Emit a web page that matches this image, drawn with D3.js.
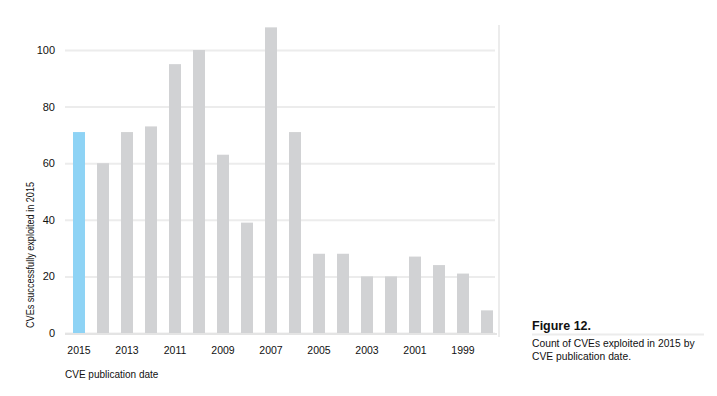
<!DOCTYPE html>
<html>
<head>
<meta charset="utf-8">
<script src="https://cdnjs.cloudflare.com/ajax/libs/d3/7.8.5/d3.min.js"></script>
<style>
  body { margin: 0; background: #fff; }
  svg { font-family: "Liberation Sans", Arial, sans-serif; }
</style>
</head>
<body>
<svg id="chart" width="717" height="396"></svg>
<script>
"use strict";

var years = ["2015", "2014", "2013", "2012", "2011", "2010", "2009", "2008", "2007",
             "2006", "2005", "2004", "2003", "2002", "2001", "2000", "1999", "1998"];
var counts = [71, 60, 71, 73, 95, 100, 63, 39, 108, 71, 28, 28, 20, 20, 27, 24, 21, 8];
var yTicks = [0, 20, 40, 60, 80, 100];
var xTickLabels = ["2015", "2013", "2011", "2009", "2007", "2005", "2003", "2001", "1999"];

var svg = d3.select("#chart");

var plotLeft = 67, plotRight = 499, plotBottom = 333;

var x = d3.scaleBand().domain(years).range([plotLeft, plotLeft + 24 * years.length]).paddingInner(0.5).paddingOuter(0.25);
var y = d3.scaleLinear().domain([0, 110.5]).range([plotBottom, plotBottom - 110.5 * 2.83]);

// gridlines
var yAxis = d3.axisLeft(y).tickValues(yTicks).tickSize(-(plotRight - 2 - plotLeft)).tickPadding(10);
var gY = svg.append("g")
    .attr("transform", "translate(" + plotLeft + ",0)")
    .call(yAxis);
gY.select(".domain").remove();
gY.selectAll(".tick line").attr("stroke", "#ececec").attr("stroke-width", 2).attr("transform", "translate(-2,0)");
gY.selectAll(".tick text").attr("font-size", 11).attr("fill", "#111").attr("x", -12);

// right border
svg.append("line")
    .attr("x1", plotRight).attr("x2", plotRight)
    .attr("y1", 25).attr("y2", 337)
    .attr("stroke", "#e6e6e6").attr("stroke-width", 1.5);

// bars
svg.append("g").selectAll("rect")
    .data(counts)
    .enter().append("rect")
    .attr("x", function (d, i) { return x(years[i]); })
    .attr("width", x.bandwidth())
    .attr("y", function (d) { return y(d); })
    .attr("height", function (d) { return y(0) - y(d); })
    .attr("fill", function (d, i) { return i === 0 ? "#8ed3f5" : "#d1d2d4"; });

// baseline
svg.append("line")
    .attr("x1", plotLeft - 2).attr("x2", plotRight - 2)
    .attr("y1", y(0) + 1).attr("y2", y(0) + 1)
    .attr("stroke", "#e4e4e4").attr("stroke-width", 2);

// x axis labels
var xAxis = d3.axisBottom(x).tickValues(xTickLabels).tickSize(0).tickPadding(14);
var gX = svg.append("g")
    .attr("transform", "translate(0," + plotBottom + ")")
    .call(xAxis);
gX.select(".domain").remove();
gX.selectAll(".tick text").attr("font-size", 10.5).attr("fill", "#111");

svg.append("text")
    .attr("x", 65).attr("y", 378)
    .attr("font-size", 10).attr("fill", "#111")
    .text("CVE publication date");

svg.append("text")
    .attr("transform", "translate(34,255) rotate(-90)")
    .attr("text-anchor", "middle")
    .attr("font-size", 10).attr("fill", "#111")
    .attr("textLength", 146).attr("lengthAdjust", "spacingAndGlyphs")
    .text("CVEs successfully exploited in 2015");

// caption
svg.append("text")
    .attr("x", 532).attr("y", 330)
    .attr("font-size", 13.5).attr("font-weight", "bold").attr("fill", "#111")
    .attr("textLength", 59).attr("lengthAdjust", "spacingAndGlyphs")
    .text("Figure 12.");
svg.append("line")
    .attr("x1", 532).attr("x2", 704)
    .attr("y1", 334.5).attr("y2", 334.5)
    .attr("stroke", "#ececec").attr("stroke-width", 2);
svg.append("text")
    .attr("x", 532).attr("y", 347)
    .attr("font-size", 10.3).attr("fill", "#111")
    .text("Count of CVEs exploited in 2015 by");
svg.append("text")
    .attr("x", 532).attr("y", 360)
    .attr("font-size", 10.3).attr("fill", "#111")
    .text("CVE publication date.");
</script>
</body>
</html>
